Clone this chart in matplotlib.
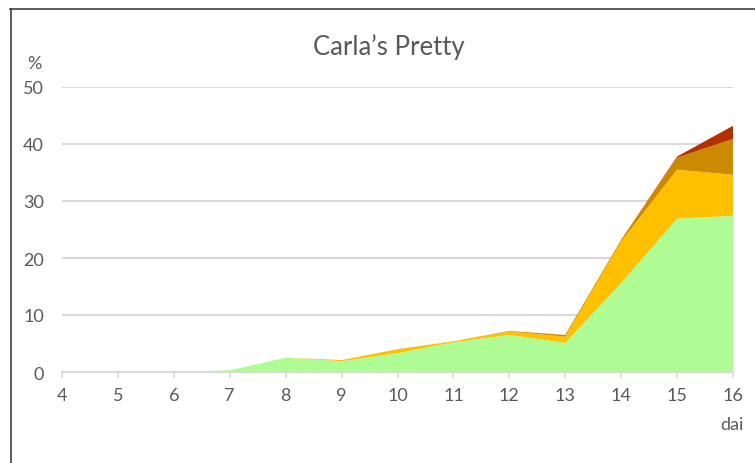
import matplotlib
matplotlib.use("Agg")
import matplotlib.pyplot as plt
from matplotlib.lines import Line2D

days = [4, 5, 6, 7, 8, 9, 10, 11, 12, 13, 14, 15, 16]
green = [0, 0, 0, 0.3, 2.5, 1.9, 3.3, 5.2, 6.5, 5.1, 15.6, 26.9, 27.4]
orange = [0, 0, 0, 0, 0, 0.2, 0.7, 0.2, 0.6, 1.1, 7.3, 8.6, 7.2]
darkgold = [0, 0, 0, 0, 0, 0, 0, 0, 0.1, 0.3, 0.3, 2.1, 6.3]
red = [0, 0, 0, 0, 0, 0, 0, 0, 0, 0, 0, 0.2, 2.3]
yticks = [0, 10, 20, 30, 40, 50]
title = "Carla’s Pretty"

colors = ["#AFFC94", "#FFC000", "#CC8A00", "#B33000"]
plt.rcParams['font.family'] = ['Lato', 'DejaVu Sans']
txt = "#595959"

fig = plt.figure(figsize=(7.55, 4.64), dpi=100)
ax = fig.add_axes([62/755, 1-373/464, (733-62)/755, (373-88)/464])
ax.stackplot(days, green, orange, darkgold, red, colors=colors, linewidth=0, zorder=3)
ax.set_xlim(4, 16)
ax.set_ylim(0, 50)
ax.set_xticks(days)
ax.set_yticks(yticks)
ax.grid(axis='y', color="#D9D9D9", lw=1.5, zorder=1)
ax.set_axisbelow(True)
for s in ['top', 'right', 'left']:
    ax.spines[s].set_visible(False)
ax.spines['bottom'].set_color("#D9D9D9")
ax.spines['bottom'].set_linewidth(1.5)
ax.spines['bottom'].set_zorder(4)
ax.tick_params(axis='y', length=0, pad=13, labelsize=13, labelcolor=txt)
ax.tick_params(axis='x', length=4, width=1.2, color="#D9D9D9", pad=7, labelsize=13, labelcolor=txt)

fig.text(389/755, 1-47/464, title, ha='center', va='center', fontsize=18.5, color=txt)
fig.text(27/755, 1-64/464, "%", ha='left', va='center', fontsize=13, color=txt)
fig.text(744/755, 1-425/464, "dai", ha='right', va='center', fontsize=13, color=txt)

# figure border
fig.add_artist(Line2D([10/755, 1.0], [1-10/464, 1-10/464], color="#404040", lw=1.2, transform=fig.transFigure))
fig.add_artist(Line2D([11/755, 11/755], [0, 1-10/464], color="#404040", lw=1.2, transform=fig.transFigure))

fig.savefig("out.png", dpi=100, facecolor="white")
